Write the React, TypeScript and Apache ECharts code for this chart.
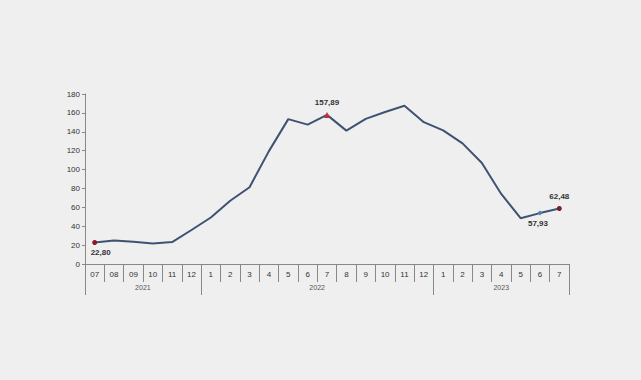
import React, { useEffect, useRef } from "react";
import * as echarts from "echarts";

const months = ["07", "08", "09", "10", "11", "12", "1", "2", "3", "4", "5", "6", "7", "8", "9", "10", "11", "12", "1", "2", "3", "4", "5", "6", "7"];
const years = ["2021", "2022", "2023"];
const yearStartIndex = [0, 6, 18];
const yearLabelIndex = [2, 11, 21];
const values = [22.8, 25.0, 23.5, 21.8, 23.2, 36.0, 49.2, 67.0, 81.3, 119.5, 153.4, 147.6, 157.89, 141.2, 153.7, 160.9, 167.6, 150.2, 141.5, 127.7, 107.0, 74.2, 48.5, 53.9, 58.8];
const labelIndex = [0, 12, 23, 24];
const labelText = ["22,80", "157,89", "57,93", "62,48"];
const yTicks = { min: 0, max: 180, interval: 20 };

export default function App() {
  const ref = useRef<HTMLDivElement>(null);
  useEffect(() => {
    document.body.style.margin = "0";
    document.body.style.background = "#efefef";
    const chart = echarts.init(ref.current!, null, { renderer: "svg" });
    const font = "'Liberation Sans', Arial, sans-serif";
    const markerStyle: any = {
      0: { symbol: "circle", symbolSize: 5, color: "#8b1a2b", pos: "bottom", offset: [6, 0] },
      12: { symbol: "triangle", symbolSize: 6, color: "#c0303a", pos: "top", offset: [0, -1] },
      23: { symbol: "diamond", symbolSize: 5, color: "#4f7fb0", pos: "bottom", offset: [-2, 0] },
      24: { symbol: "circle", symbolSize: 5, color: "#7a1d2b", pos: "top", offset: [0, -1] },
    };
    const data = values.map((v, i) => {
      const li = labelIndex.indexOf(i);
      if (li < 0) return { value: v };
      const m = markerStyle[i];
      return {
        value: v,
        symbol: m.symbol,
        symbolSize: m.symbolSize,
        itemStyle: { color: m.color },
        label: {
          show: true,
          position: m.pos,
          offset: m.offset,
          formatter: labelText[li],
          fontSize: 8,
          fontWeight: "bold",
          color: "#333",
          fontFamily: font,
          distance: 4,
        },
      };
    });
    chart.setOption({
      animation: false,
      backgroundColor: "#efefef",
      grid: { left: 85, right: 72, top: 94, bottom: 116 },
      xAxis: [
        {
          type: "category",
          data: months,
          position: "bottom",
          boundaryGap: true,
          axisLine: { show: true, lineStyle: { color: "#888", width: 1 } },
          axisTick: { show: true, length: 18, lineStyle: { color: "#888" } },
          axisLabel: { fontSize: 8, color: "#333", margin: 6, fontFamily: font, interval: 0 },
        },
        {
          type: "category",
          data: months,
          position: "bottom",
          boundaryGap: true,
          axisLine: { show: true, lineStyle: { color: "#888", width: 1 } },
          axisTick: {
            show: true,
            length: 31,
            interval: (i: number) => yearStartIndex.includes(i),
            lineStyle: { color: "#888" },
          },
          axisLabel: {
            fontSize: 7,
            color: "#555",
            margin: 20,
            fontFamily: font,
            interval: (i: number) => yearLabelIndex.includes(i),
            formatter: (_v: string, i: number) => {
              const k = yearLabelIndex.indexOf(i);
              if (k < 0) return "";
              return k < 2 ? "{s|" + years[k] + "}" : "{n|" + years[k] + "}";
            },
            rich: {
              s: { fontSize: 7, color: "#555", fontFamily: font, padding: [0, 0, 0, 19] },
              n: { fontSize: 7, color: "#555", fontFamily: font },
            },
          },
        },
      ],
      yAxis: {
        type: "value",
        min: yTicks.min,
        max: yTicks.max,
        interval: yTicks.interval,
        axisLine: { show: true, lineStyle: { color: "#888" } },
        axisTick: { show: true, length: 3, lineStyle: { color: "#888" } },
        splitLine: { show: false },
        axisLabel: { fontSize: 8, color: "#333", margin: 5, fontFamily: font },
      },
      series: [
        {
          type: "line",
          data,
          showSymbol: true,
          symbol: "none",
          lineStyle: { color: "#3f5273", width: 2 },
          itemStyle: { color: "#3f5273" },
        },
      ],
    });
    return () => chart.dispose();
  }, []);
  return <div ref={ref} style={{ width: 641, height: 380, background: "#efefef" }} />;
}
